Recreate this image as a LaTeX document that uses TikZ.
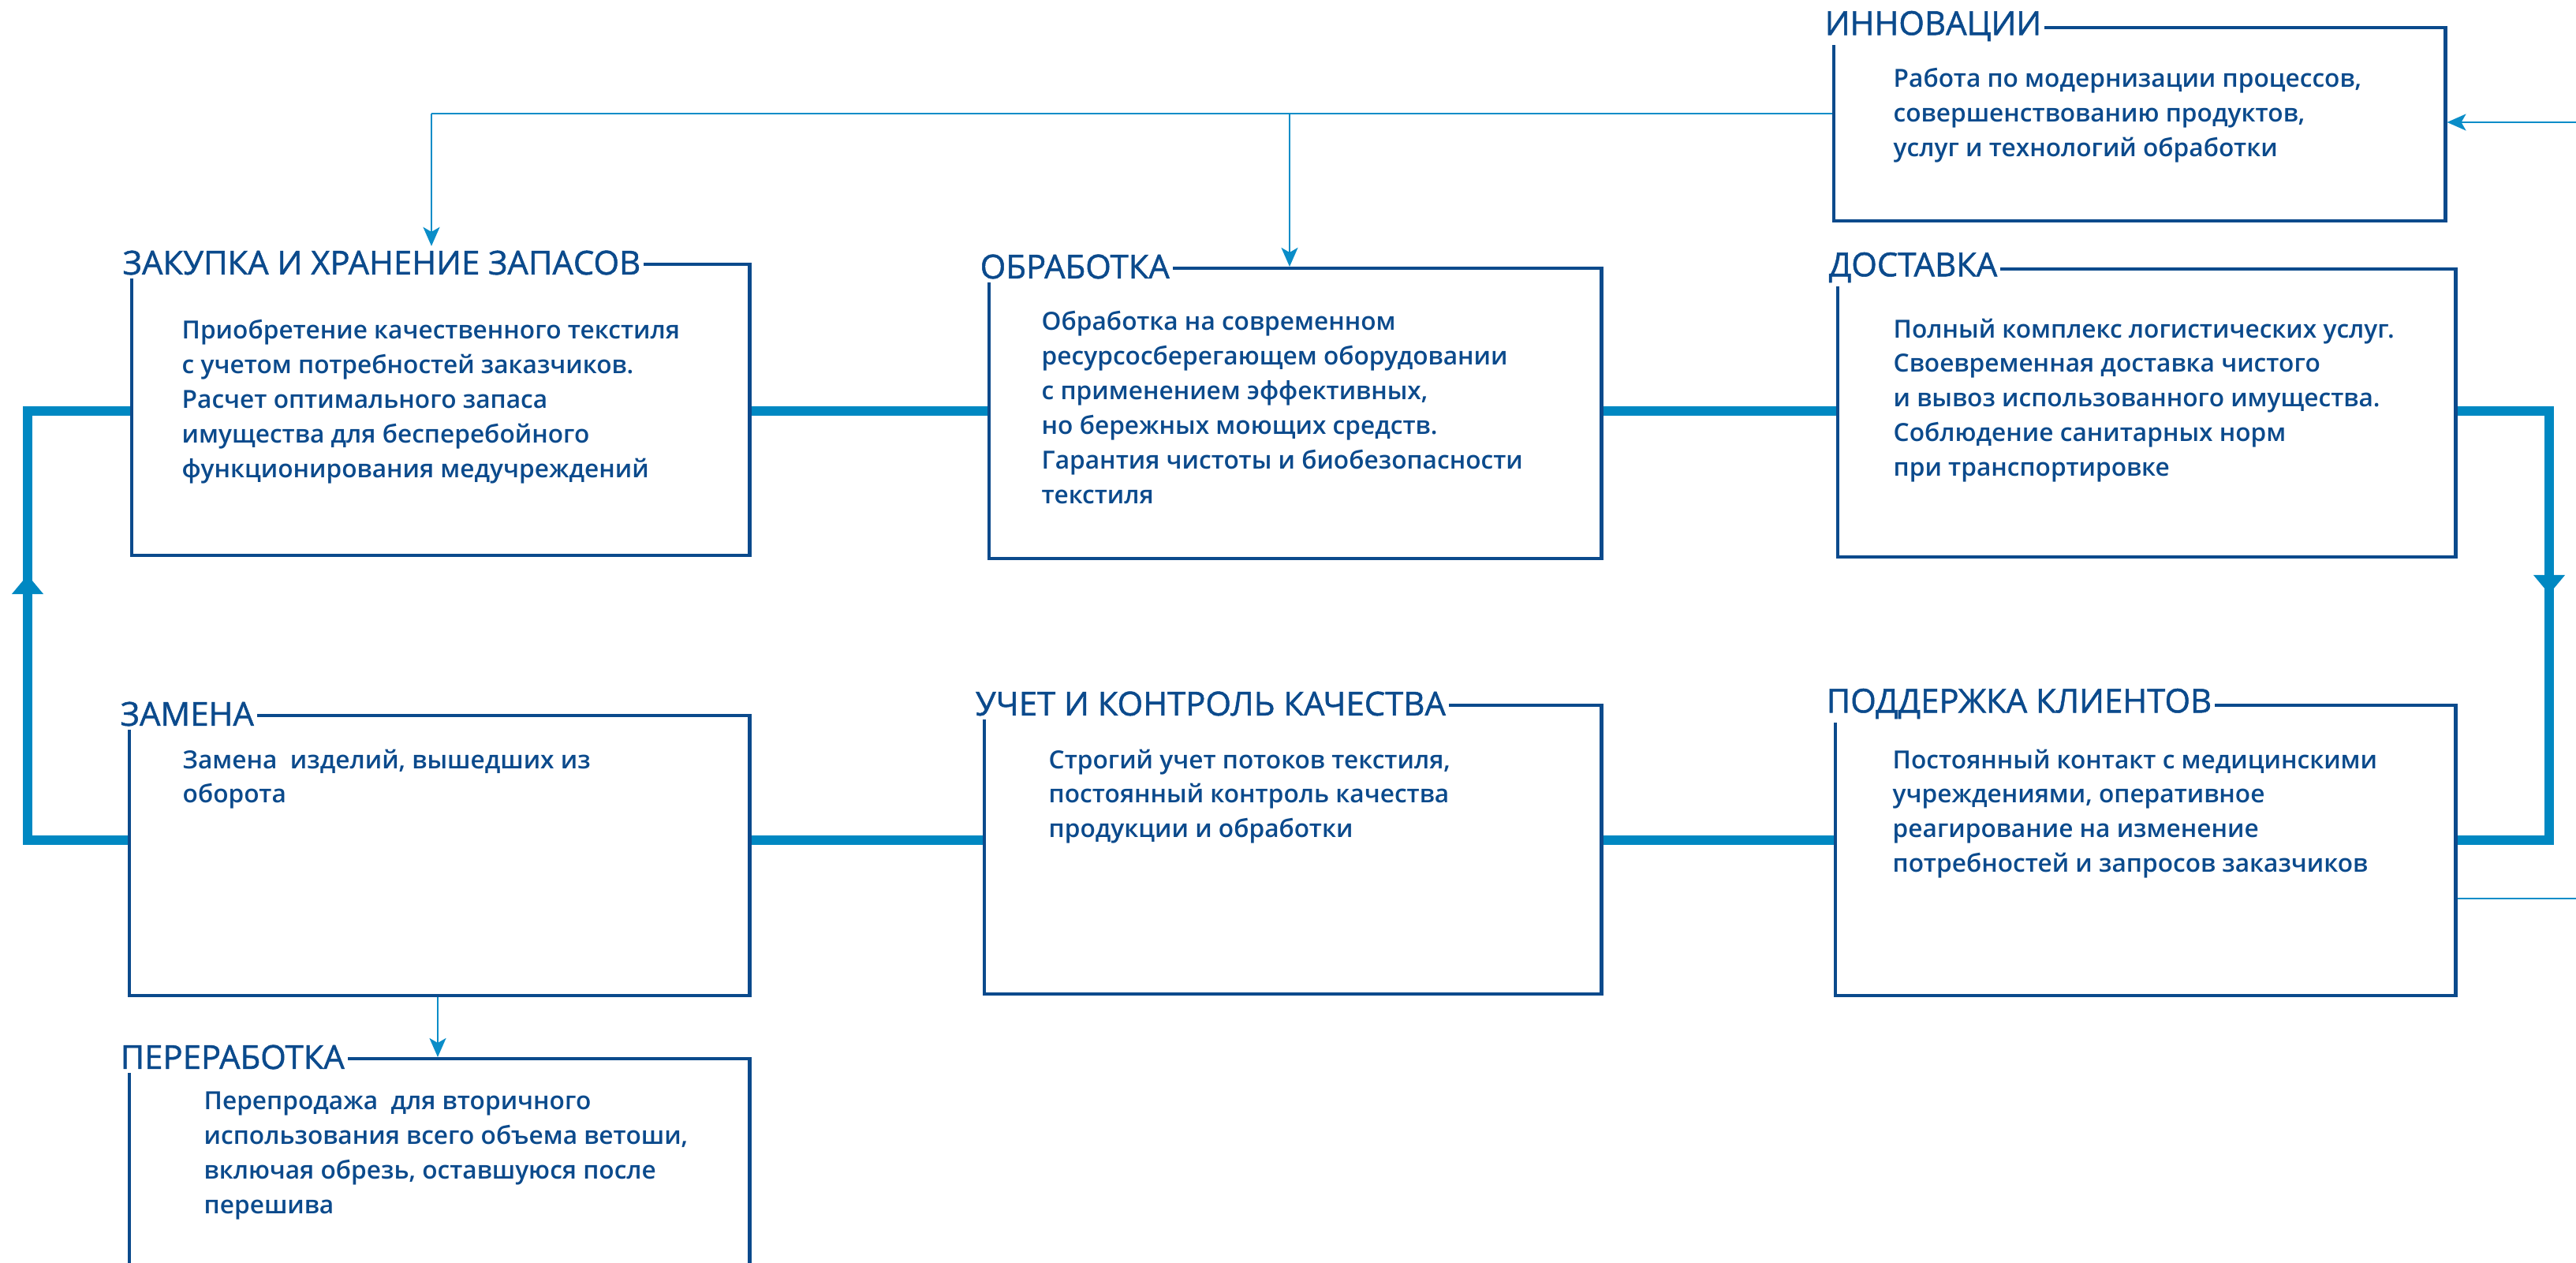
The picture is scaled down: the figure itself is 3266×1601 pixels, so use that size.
\documentclass[tikz,border=0pt]{standalone}
\usepackage{fontspec}
\setmainfont{Open Sans}
\IfFontExistsTF{Open Sans Semibold}
  {\newfontfamily\bodyfont{Open Sans Semibold}}
  {\newfontfamily\bodyfont{Open Sans}[UprightFont=*Bold]}
\IfFontExistsTF{Open Sans Medium}
  {\newfontfamily\titlefont{Open Sans Medium}}
  {\newfontfamily\titlefont{Open Sans}[FakeBold=1.2]}
\usepackage{xcolor}
\usetikzlibrary{arrows.meta}

\definecolor{boxblue}{HTML}{0B4A8C}
\definecolor{loopblue}{HTML}{0088C2}
\definecolor{linkblue}{HTML}{0A8DC8}

\begin{document}
\begin{tikzpicture}[
        x=0.01cm, y=-0.01cm, % 1 единица = 1 пиксель, ось y вниз
        box/.style={draw=boxblue, line width=1.15pt, fill=white, inner sep=0pt, anchor=north west}, % рамка блока
        title/.style={fill=white, text=boxblue, font=\titlefont\fontsize{11.9}{14}\selectfont,
            inner xsep=0.04cm, inner ysep=0.05cm, anchor=west, xshift=-0.14cm}, % заголовок на углу рамки
        body/.style={text=boxblue, font=\bodyfont\fontsize{9}{12.5}\selectfont,
            align=left, inner sep=0pt, anchor=north west}, % текст блока
        flow/.style={line width=3.4pt, draw=loopblue}, % толстый контур цикла
        flowarrow/.style={flow, -{Triangle[width=0.4cm, length=0.24cm, line width=0pt]}},
        link/.style={line width=0.7pt, draw=linkblue, -{Stealth[width=0.21cm, length=0.24cm, inset=0.06cm]}}, % тонкие связи
        plainlink/.style={line width=0.7pt, draw=linkblue},
    ]
    \useasboundingbox (0,0) rectangle (3266,1601);
    \clip (0,0) rectangle (3266,1601);

    % --- Толстый контур цикла ---
    \coordinate (tl) at (35,521);
    \coordinate (tr) at (3232,521);
    \coordinate (br) at (3232,1065);
    \coordinate (bl) at (35,1065);
    \draw[flow] (tl) -- (tr) -- (br) -- (bl) -- cycle;
    \draw[flowarrow] (bl) -- (35,729);
    \draw[flowarrow] (tr) -- (3232,753);

    % --- Блоки ---
    \node[box, minimum width=7.83cm, minimum height=3.69cm] (zak) at (165,333) {};
    \node[box, minimum width=7.76cm, minimum height=3.68cm] (obr) at (1252,338) {};
    \node[box, minimum width=7.83cm, minimum height=3.65cm] (dos) at (2328,339) {};
    \node[box, minimum width=7.75cm, minimum height=2.45cm] (inn) at (2323,33) {};
    \node[box, minimum width=7.86cm, minimum height=3.55cm] (zam) at (162,905) {};
    \node[box, minimum width=7.82cm, minimum height=3.66cm] (uch) at (1246,892) {};
    \node[box, minimum width=7.86cm, minimum height=3.68cm] (pod) at (2325,892) {};
    \node[box, minimum width=7.86cm, minimum height=4.00cm] (per) at (162,1340) {};

    % --- Заголовки ---
    \node[title] (zakT) at (zak.north west) {ЗАКУПКА И ХРАНЕНИЕ ЗАПАСОВ\hspace{0.18cm}};
    \node[title] (obrT) at (obr.north west) {ОБРАБОТКА};
    \node[title] (dosT) at (dos.north west) {ДОСТАВКА};
    \node[title] (innT) at (inn.north west) {ИННОВАЦИИ};
    \node[title] (zamT) at (zam.north west) {ЗАМЕНА\hspace{0.08cm}};
    \node[title] (uchT) at (uch.north west) {УЧЕТ И КОНТРОЛЬ КАЧЕСТВА};
    \node[title] (podT) at (pod.north west) {ПОДДЕРЖКА КЛИЕНТОВ};
    \node[title] (perT) at (per.north west) {ПЕРЕРАБОТКА};

    % --- Тексты ---
    \node[body] (zakB) at (230,405) {Приобретение качественного текстиля\\с учетом потребностей заказчиков.\\Расчет оптимального запаса\\имущества для бесперебойного\\функционирования медучреждений};
    \node[body] (obrB) at (1320,394) {Обработка на современном\\ресурсосберегающем оборудовании\\с применением эффективных,\\но бережных моющих средств.\\Гарантия чистоты и биобезопасности\\текстиля};
    \node[body] (dosB) at (2400,403) {Полный комплекс логистических услуг.\\Своевременная доставка чистого\\и вывоз использованного имущества.\\Соблюдение санитарных норм\\при транспортировке};
    \node[body] (innB) at (2400,86) {Работа по модернизации процессов,\\совершенствованию продуктов,\\услуг и технологий обработки};
    \node[body] (zamB) at (231,949) {Замена~ изделий, вышедших из\\оборота};
    \node[body] (uchB) at (1329,949) {Строгий учет потоков текстиля,\\постоянный контроль качества\\продукции и обработки};
    \node[body] (podB) at (2399,949) {Постоянный контакт с медицинскими\\учреждениями, оперативное\\реагирование на изменение\\потребностей и запросов заказчиков};
    \node[body] (perB) at (258,1383) {Перепродажа~ для вторичного\\использования всего объема ветоши,\\включая обрезь, оставшуюся после\\перешива};

    % --- Тонкие связи ---
    \coordinate (innin) at (3266,155);
    \coordinate (podout) at (3266,1139);
    \coordinate (split) at (547,144);
    \coordinate (branch) at (1635,144);
    \draw[plainlink] (inn.west |- split) -- (split);
    \draw[link] (split) -- (zakT.north -| split);
    \draw[link] (branch) -- (obr.north -| branch);
    \draw[link] (innin) -- (inn.east |- innin);
    \draw[plainlink] (pod.east |- podout) -- (podout);
    \draw[link] (zam.south -| 555,0) -- (per.north -| 555,0);
\end{tikzpicture}
\end{document}
